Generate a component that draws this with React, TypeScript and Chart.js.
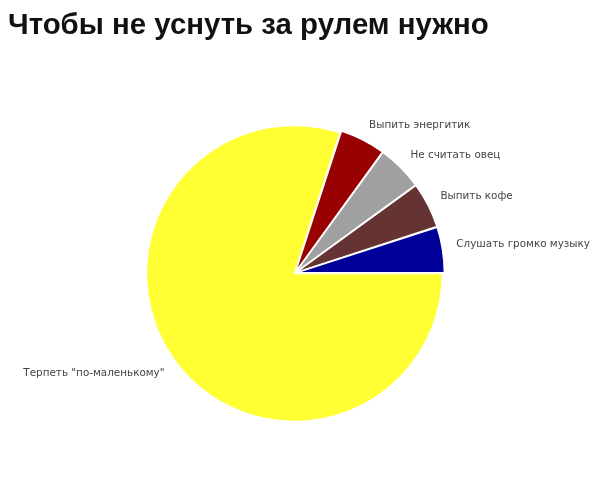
import { useEffect, useRef } from "react"
import { Chart, registerables, type Plugin } from "chart.js"

Chart.register(...registerables)

const chartTitle = "Чтобы не уснуть за рулем нужно"
const labels = [
  "Терпеть \"по-маленькому\"",
  "Выпить энергитик",
  "Не считать овец",
  "Выпить кофе",
  "Слушать громко музыку",
]
const shares = [80, 5, 5, 5, 5]
const colors = ["#ffff33", "#990000", "#a0a0a0", "#663333", "#000099"]
const offsets = [3, 5, 5, 5, 5]

// text next to each slice, on the slice's middle angle
const sliceLabels: Plugin<"pie"> = {
  id: "sliceLabels",
  afterDatasetsDraw(chart) {
    const { ctx } = chart
    const meta = chart.getDatasetMeta(0)
    ctx.save()
    ctx.font = "10.4px 'DejaVu Sans', Verdana, sans-serif"
    ctx.fillStyle = "#444"
    meta.data.forEach((el, i) => {
      const { x, y, startAngle, endAngle, outerRadius } = el.getProps(
        ["x", "y", "startAngle", "endAngle", "outerRadius"],
        true
      ) as any
      const mid = (startAngle + endAngle) / 2
      const r = outerRadius + offsets[i] + 11
      const lx = x + Math.cos(mid) * r
      const ly = y + Math.sin(mid) * r
      ctx.textAlign = Math.cos(mid) >= 0 ? "left" : "right"
      // labels under the centre hang below their anchor
      ctx.textBaseline = Math.sin(mid) > 0 ? "top" : "alphabetic"
      ctx.fillText(String(chart.data.labels![i]), lx, ly)
    })
    ctx.restore()
  },
}

export default function App() {
  const chartRef = useRef<HTMLCanvasElement>(null)

  useEffect(() => {
    if (!chartRef.current) return

    const chart = new Chart(chartRef.current, {
      type: "pie",
      data: {
        labels,
        datasets: [
          {
            data: shares,
            backgroundColor: colors,
            borderColor: "#ffffff",
            borderWidth: 1.5,
            offset: offsets,
          },
        ],
      },
      options: {
        responsive: true,
        maintainAspectRatio: false,
        animation: false,
        rotation: 90,
        layout: { padding: { top: 0, left: 0, right: 18, bottom: 68.5 } },
        plugins: {
          legend: { display: false },
          tooltip: { enabled: false },
          title: {
            display: true,
            text: chartTitle,
            align: "start",
            color: "#111",
            font: { family: "'Liberation Sans', Arial, sans-serif", size: 29.4, weight: "bold", lineHeight: 1 },
            padding: { top: 3, bottom: 82.1 },
          },
        },
      },
      plugins: [sliceLabels],
    })

    return () => chart.destroy()
  }, [])

  return (
    <div style={{ position: "relative", width: 592, height: 484 }}>
      <canvas ref={chartRef} />
    </div>
  )
}
